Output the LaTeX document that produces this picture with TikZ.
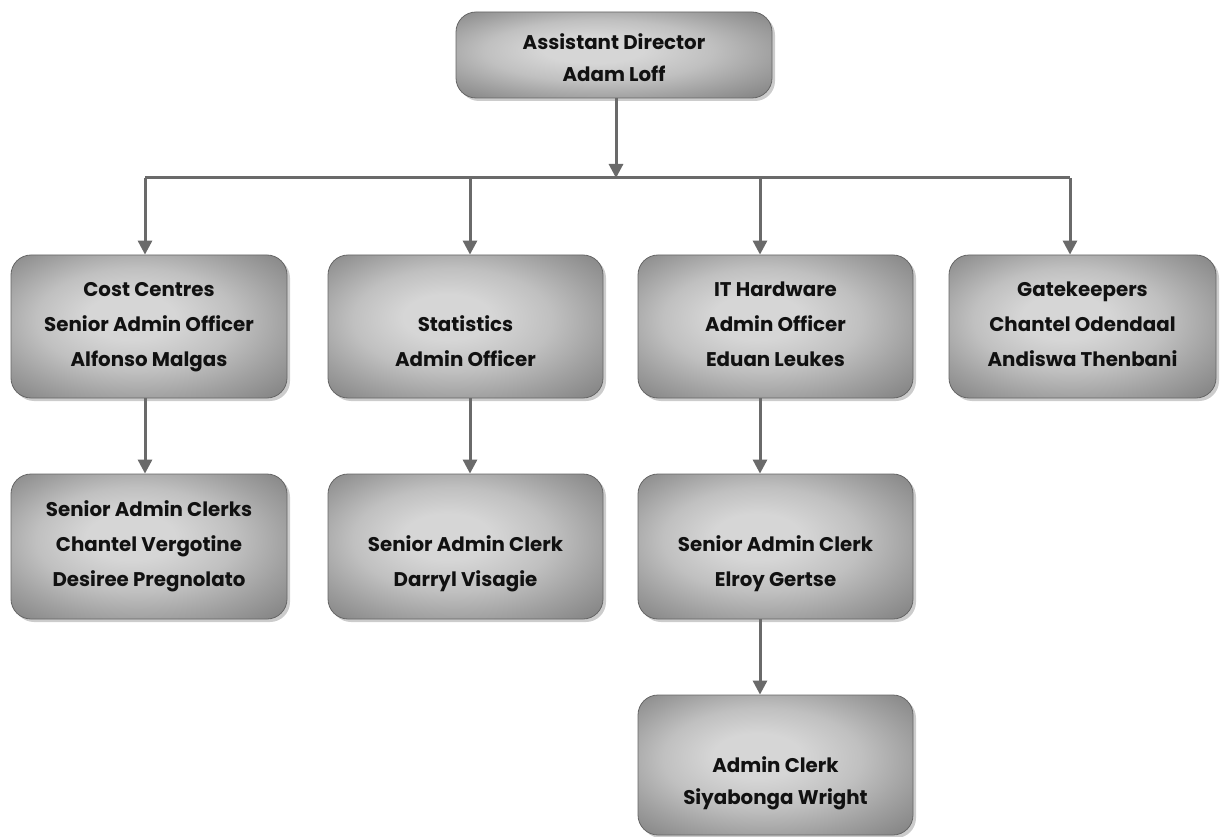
\documentclass[tikz,border=0pt]{standalone}
\usepackage{fontspec}
\setmainfont{Poppins}
\usetikzlibrary{arrows.meta,shadows,calc}
\definecolor{linegray}{HTML}{6A6A6A}
\definecolor{edgegray}{HTML}{666666}
\definecolor{shA}{HTML}{D6D6D6}
\definecolor{shB}{HTML}{C0C0C0}
\definecolor{shC}{HTML}{A0A0A0}
\definecolor{shD}{HTML}{828282}
\definecolor{shE}{HTML}{626262}
\definecolor{txtc}{HTML}{111111}
\pgfdeclareradialshading{boxshade}{\pgfpoint{-4bp}{4bp}}{color(0bp)=(shA); color(8bp)=(shA); color(18bp)=(shB); color(27bp)=(shC); color(36bp)=(shD); color(46bp)=(shE)}
\newcommand\SA{\vrule height 22pt depth 13pt width 0pt}
\newcommand\ST{\vrule height 25pt depth 3pt width 0pt}
\newcommand\SR{\vrule height 23pt depth 9pt width 0pt}
\tikzset{
  orgbox/.style={draw=edgegray, line width=0.8pt, rounded corners=20pt, shading=boxshade,
    inner sep=0pt, align=center, text=txtc,
    drop shadow={shadow xshift=3pt, shadow yshift=-3pt, fill=black, opacity=0.2}},
  rowfont/.style={font=\fontsize{19.8}{35}\selectfont\bfseries},
  topfont/.style={font=\fontsize{19.8}{32}\selectfont\bfseries},
  lowfont/.style={font=\fontsize{19.8}{32}\selectfont\bfseries},
  conn/.style={draw=linegray, line width=3pt},
  arr/.style={conn, -{Triangle[width=14pt,length=14pt]}}
}
\begin{document}
\begin{tikzpicture}[x=1pt,y=-1pt]
\path[use as bounding box] (0,0) rectangle (1221,837);
% top
\node[orgbox, minimum width=316pt, minimum height=86pt] (top) at (614,55) {};
\begin{scope}
\clip (440,0) rectangle (790,82);
\node[topfont, align=center, inner sep=0pt, text=txtc] (toptxt) at (top.center) {\ST Assistant Director\\\ST Adam Loff};
\end{scope}
% row 1
\node[orgbox, rowfont, minimum width=276pt, minimum height=143pt] (cc) at (149,326.5) {\SA Cost Centres\\\SA Senior Admin Officer\\\SA Alfonso Malgas};
\node[orgbox, rowfont, minimum width=275pt, minimum height=143pt] (st) at (465.5,326.5) {\SA\\\SA Statistics\\\SA Admin Officer};
\node[orgbox, rowfont, minimum width=275pt, minimum height=143pt] (it) at (775.5,326.5) {\SA IT Hardware\\\SA Admin Officer\\\SA Eduan Leukes};
\node[orgbox, rowfont, minimum width=267pt, minimum height=143pt] (gk) at (1082.5,326.5) {\SA Gatekeepers\\\SA Chantel Odendaal\\\SA Andiswa Thenbani};
% row 2
\node[orgbox, rowfont, minimum width=276pt, minimum height=145pt] (sac) at (149,546.5) {\SA Senior Admin Clerks\\\SA Chantel Vergotine\\\SA Desiree Pregnolato};
\node[orgbox, rowfont, minimum width=275pt, minimum height=145pt] (sc2) at (465.5,546.5) {\SA\\\SA Senior Admin Clerk\\\SA Darryl Visagie};
\node[orgbox, rowfont, minimum width=275pt, minimum height=145pt] (sc3) at (775.5,546.5) {\SA\\\SA Senior Admin Clerk\\\SA Elroy Gertse};
% row 3
\node[orgbox, lowfont, minimum width=275pt, minimum height=140pt] (ac) at (775.5,765) {\SR\\\SR Admin Clerk\\\SR Siyabonga Wright};
% connectors
\coordinate (bt) at (616,178);
\coordinate (b1) at (145,178);
\coordinate (b2) at (470,178);
\coordinate (b3) at (760,178);
\coordinate (b4) at (1070,178);
\draw[conn] (b1) -- (b4);
\draw[arr] (bt |- top.south) -- (bt);
\draw[arr] (b1) -- (b1 |- cc.north);
\draw[arr] (b2) -- (b2 |- st.north);
\draw[arr] (b3) -- (b3 |- it.north);
\draw[arr] (b4) -- (b4 |- gk.north);
\draw[arr] (b1 |- cc.south) -- (b1 |- sac.north);
\draw[arr] (b2 |- st.south) -- (b2 |- sc2.north);
\draw[arr] (b3 |- it.south) -- (b3 |- sc3.north);
\draw[arr] (b3 |- sc3.south) -- (b3 |- ac.north);
\end{tikzpicture}
\end{document}
